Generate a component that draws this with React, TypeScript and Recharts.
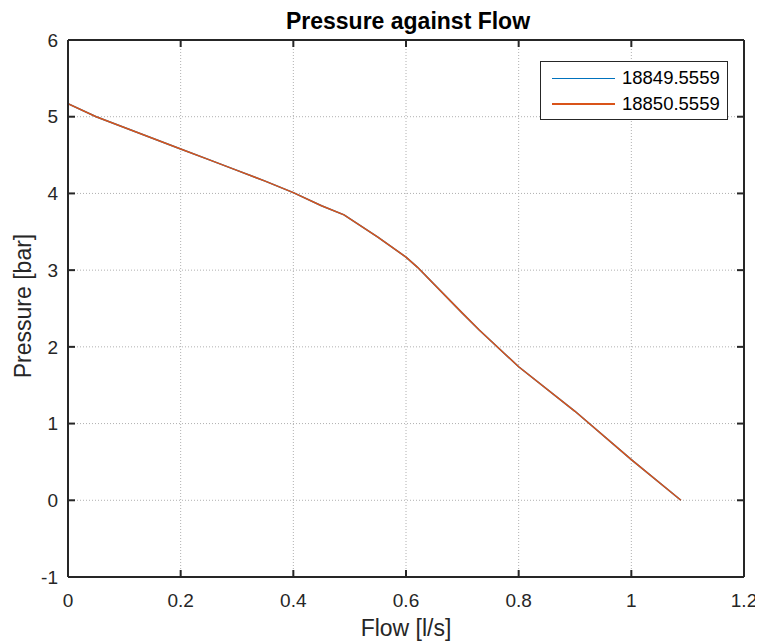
import React from 'react';
import { LineChart, Line, XAxis, YAxis, CartesianGrid, Label } from 'recharts';

const flow = [0, 0.05, 0.1, 0.15, 0.2, 0.25, 0.3, 0.35, 0.4, 0.45, 0.49, 0.55, 0.6, 0.62, 0.7, 0.73, 0.8, 0.9, 1.0, 1.088];
const pressureA = [5.17, 5.0, 4.86, 4.72, 4.58, 4.44, 4.3, 4.16, 4.01, 3.84, 3.72, 3.43, 3.17, 3.04, 2.44, 2.22, 1.74, 1.16, 0.53, 0];
const pressureB = [5.17, 5.0, 4.86, 4.72, 4.58, 4.44, 4.3, 4.16, 4.01, 3.84, 3.72, 3.43, 3.17, 3.04, 2.44, 2.22, 1.74, 1.16, 0.53, 0];
const seriesNames = ['18849.5559', '18850.5559'];
const seriesColors = ['#0072BD', '#D95319'];
const xTicks = [0, 0.2, 0.4, 0.6, 0.8, 1, 1.2];
const yTicks = [-1, 0, 1, 2, 3, 4, 5, 6];
const title = 'Pressure against Flow';
const xLabel = 'Flow [l/s]';
const yLabel = 'Pressure [bar]';

const data = flow.map((f, i) => ({ flow: f, a: pressureA[i], b: pressureB[i] }));

const FONT = '"Liberation Sans", Arial, Helvetica, sans-serif';
const TXT = '#262626';
const AX = '#262626';
const TICK_LEN = 7;
const AX_W = 2;

const BottomTick = (props: any) => {
  const { x, y, payload } = props;
  const base = y - 17;
  return (
    <g>
      <line x1={x} y1={base} x2={x} y2={base - TICK_LEN} stroke={AX} strokeWidth={AX_W} />
      <text x={x} y={y} dy="0.71em" textAnchor="middle" fontFamily={FONT} fontSize={19} fill={TXT}>{payload.value}</text>
    </g>
  );
};
const LeftTick = (props: any) => {
  const { x, y, payload } = props;
  const base = x + 10;
  return (
    <g>
      <line x1={base} y1={y} x2={base + TICK_LEN} y2={y} stroke={AX} strokeWidth={AX_W} />
      <text x={x} y={y} dy="0.355em" textAnchor="end" fontFamily={FONT} fontSize={19} fill={TXT}>{payload.value}</text>
    </g>
  );
};
const TopTick = (props: any) => {
  const { x, y } = props;
  return <line x1={x} y1={y} x2={x} y2={y + TICK_LEN} stroke={AX} strokeWidth={AX_W} />;
};
const RightTick = (props: any) => {
  const { x, y } = props;
  return <line x1={x} y1={y} x2={x - TICK_LEN} y2={y} stroke={AX} strokeWidth={AX_W} />;
};

const YLab = (props: any) => {
  const vb = props.viewBox || {};
  const x = vb.x + 15;
  const y = vb.y + vb.height / 2 - 2.5;
  return (
    <text x={x} y={y} transform={`rotate(-90, ${x}, ${y})`} textAnchor="middle" dominantBaseline="central"
      fontFamily={FONT} fontSize={23} fill={TXT}>{yLabel}</text>
  );
};

export default function App() {
  return (
    <div style={{ position: 'relative', width: 747, height: 633 }}>
      <LineChart width={755} height={633} data={data} margin={{ top: 31, right: 18, left: 0, bottom: 8 }}>
        <CartesianGrid stroke="#b0b0b0" strokeDasharray="1 2" strokeWidth={1} />
        <XAxis type="number" dataKey="flow" domain={[0, 1.2]} ticks={xTicks} allowDataOverflow
          height={56} tickSize={0} tickMargin={17} tickLine={false}
          axisLine={{ stroke: AX, strokeWidth: AX_W }}
          tick={<BottomTick />} />
        <XAxis xAxisId="t" orientation="top" type="number" dataKey="flow" domain={[0, 1.2]} ticks={xTicks} allowDataOverflow
          height={1} tickSize={0} tickMargin={0} tickLine={false} tick={<TopTick />}
          axisLine={{ stroke: AX, strokeWidth: AX_W }}>
          <Label value={title} position="top" offset={10} dx={2} fill="#000" fontSize={23} fontWeight="bold" fontFamily={FONT} />
        </XAxis>
        <YAxis type="number" domain={[-1, 6]} ticks={yTicks} allowDataOverflow width={60}
          tickSize={0} tickMargin={10} tickLine={false}
          axisLine={{ stroke: AX, strokeWidth: AX_W }}
          tick={<LeftTick />}
          label={<YLab />} />
        <YAxis yAxisId="r" orientation="right" type="number" domain={[-1, 6]} ticks={yTicks} allowDataOverflow width={1}
          tickSize={0} tickMargin={0} tickLine={false} tick={<RightTick />}
          axisLine={{ stroke: AX, strokeWidth: AX_W }} />
        <Line type="linear" dataKey="a" name={seriesNames[0]} stroke={seriesColors[0]} strokeWidth={1.5} dot={false} isAnimationActive={false} />
        <Line type="linear" dataKey="b" name={seriesNames[1]} stroke={seriesColors[1]} strokeWidth={1.5} dot={false} isAnimationActive={false} />
      </LineChart>
      <div style={{ position: 'absolute', left: 60, width: 676, top: 606.5, height: 26, lineHeight: '26px', textAlign: 'center',
        fontFamily: FONT, fontSize: 23, color: TXT, whiteSpace: 'nowrap' }}>{xLabel}</div>
      <div style={{ position: 'absolute', left: 532, top: 53, width: 188, height: 59, boxSizing: 'border-box',
        border: '1px solid #262626', background: '#fff', fontFamily: FONT, fontSize: 18.5, color: '#000' }}>
        {seriesNames.map((n, i) => (
          <div key={n} style={{ position: 'absolute', left: 0, top: 16.3 + i * 25.4 - 12, height: 24, width: '100%' }}>
            <div style={{ position: 'absolute', left: 11, top: 11.5, width: 63, height: 1.5, background: seriesColors[i] }} />
            <div style={{ position: 'absolute', left: 81, top: 0, lineHeight: '24px', whiteSpace: 'nowrap' }}>{n}</div>
          </div>
        ))}
      </div>
    </div>
  );
}
